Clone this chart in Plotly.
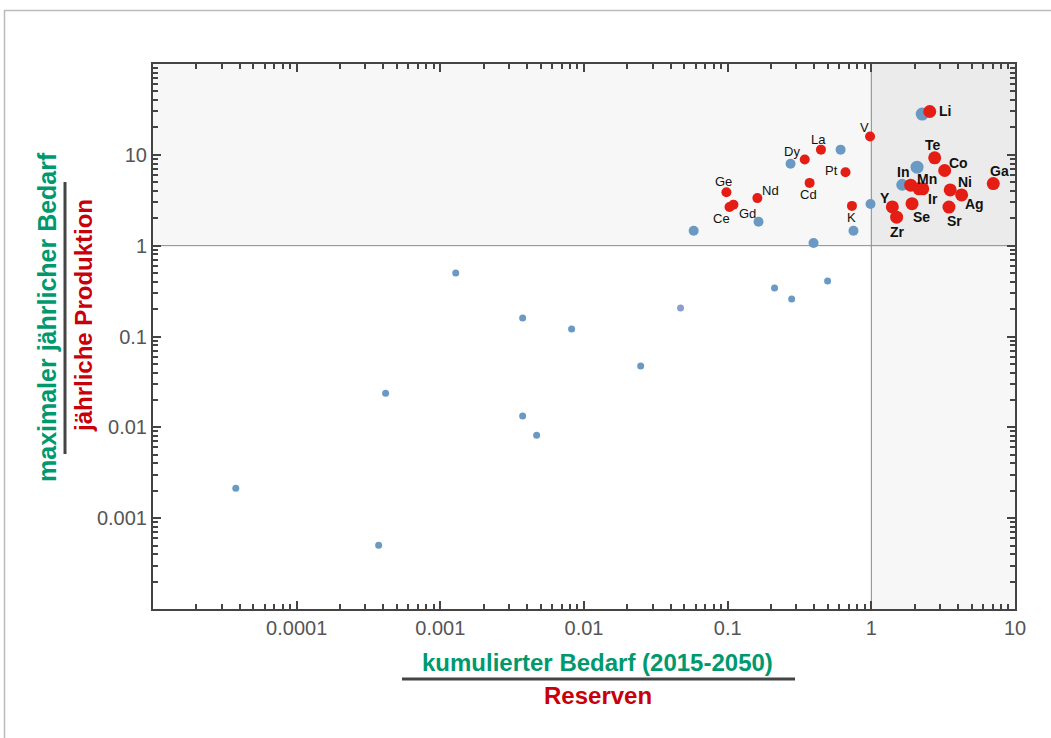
import numpy as np
import plotly.graph_objects as go

# ---------------- data ----------------
# blue points (x: cumulative demand / reserves, y: max annual demand / annual production)
blue_x = [3.77e-5, 3.72e-4, 4.16e-4, 1.28e-3, 3.74e-3, 3.74e-3, 4.68e-3, 8.2e-3,
          0.0248, 0.212, 0.279, 0.496,
          0.058, 0.164, 0.274, 0.611, 0.396, 0.751, 0.987, 1.64, 2.08, 2.26]
blue_y = [0.00214, 0.000504, 0.0238, 0.501, 0.160, 0.0133, 0.0082, 0.121,
          0.0473, 0.342, 0.259, 0.409,
          1.46, 1.83, 7.96, 11.4, 1.07, 1.46, 2.88, 4.67, 7.31, 28.1]
blue_special_x = [0.047]
blue_special_y = [0.206]

# red labelled elements
red_names = ["V", "La", "Dy", "Pt", "Cd", "Ge", "Nd", "Ce", "Gd", "K",
             "Li", "Te", "Co", "In", "Mn", "Ir", "Ni", "Ag", "Ga", "Se", "Sr", "Y", "Zr"]
red_x = [0.98, 0.446, 0.344, 0.661, 0.372, 0.098, 0.161, 0.103, 0.1097, 0.733,
         2.55, 2.76, 3.24, 1.88, 2.15, 2.28, 3.54, 4.25, 7.06, 1.92, 3.47, 1.40, 1.50]
red_y = [15.9, 11.4, 8.88, 6.44, 4.91, 3.88, 3.34, 2.66, 2.83, 2.74,
         30.0, 9.26, 6.72, 4.63, 4.22, 4.22, 4.11, 3.62, 4.83, 2.90, 2.66, 2.67, 2.06]

x_tick_vals = [1e-4, 1e-3, 1e-2, 1e-1, 1, 10]
x_tick_text = ["0.0001", "0.001", "0.01", "0.1", "1", "10"]
y_tick_vals = [1e-3, 1e-2, 1e-1, 1, 10]
y_tick_text = ["0.001", "0.01", "0.1", "1", "10"]

# ---------------- styling ----------------
W, H = 1051, 738
L, R, T, B = 153, 1015, 64, 609
XR = (-5, 1)
YR = (-4, 2)
FONT = "Liberation Sans, Arial, sans-serif"
GREEN = "#00996e"
DARKRED = "#c8000a"
RED = "#e41d15"
BLUE = "#6a9ac3"

def pxx(px):
    return (px - L) / (R - L)

def pxy(py):
    return (B - py) / (B - T)

blue_sizes = [7] * 12 + [10, 10, 10, 10, 10, 10, 10, 12, 13, 13]
red_sizes = [10] * 10 + [13] * 13

label_off = {  # pixel offsets of label centre from point centre (dx, dy down)
    "Li": (15, 0), "V": (-6, -9), "La": (-2, -10), "Dy": (-13, -8), "Pt": (-14, -2),
    "Cd": (-1, 12), "Ge": (-3, -11), "Nd": (13, -8), "Ce": (-8, 11), "Gd": (14, 9),
    "K": (0, 12), "Te": (-2, -13), "Co": (14, -8), "In": (-8, -13), "Mn": (8, -10),
    "Ir": (10, 10), "Ni": (15, -8), "Ag": (13, 9), "Ga": (6, -13), "Se": (9, 13),
    "Sr": (6, 14), "Y": (-7, -9), "Zr": (1, 15),
}
bold_names = {"Li", "Te", "Co", "In", "Mn", "Ir", "Ni", "Ag", "Ga", "Se", "Sr", "Y", "Zr"}

fig = go.Figure()

fig.add_trace(go.Scatter(x=blue_x, y=blue_y, mode="markers",
                         marker=dict(color=BLUE, size=blue_sizes, opacity=1, line=dict(width=0)),
                         showlegend=False, hoverinfo="x+y"))
fig.add_trace(go.Scatter(x=blue_special_x, y=blue_special_y, mode="markers",
                         marker=dict(color="#8c9dcf", size=7, opacity=1, line=dict(width=0)),
                         showlegend=False, hoverinfo="x+y"))
fig.add_trace(go.Scatter(x=red_x, y=red_y, mode="markers", text=red_names,
                         marker=dict(color=RED, size=red_sizes, opacity=1, line=dict(width=0)),
                         showlegend=False, hoverinfo="text+x+y"))

annotations = []
for n, xv, yv in zip(red_names, red_x, red_y):
    dx, dy = label_off[n]
    b = n in bold_names
    annotations.append(dict(
        x=np.log10(xv), y=np.log10(yv), xref="x", yref="y",
        xanchor="center", yanchor="middle",
        text=f"<b>{n}</b>" if b else n, showarrow=False,
        xshift=dx, yshift=-dy,
        font=dict(family=FONT, size=14 if b else 13, color="#111"),
    ))

# axis titles (fraction style)
title_common = dict(xref="paper", yref="paper", showarrow=False,
                    xanchor="center", yanchor="middle")
annotations += [
    dict(**title_common, x=pxx(597.5), y=pxy(662),
         text="<b>kumulierter Bedarf (2015-2050)</b>",
         font=dict(family=FONT, size=24, color=GREEN)),
    dict(**title_common, x=pxx(597.5), y=pxy(695),
         text="<b>Reserven</b>", font=dict(family=FONT, size=24, color=DARKRED)),
    dict(**title_common, x=pxx(47), y=pxy(317), textangle=-90,
         text="<b>maximaler jährlicher Bedarf</b>",
         font=dict(family=FONT, size=25, color=GREEN)),
    dict(**title_common, x=pxx(83), y=pxy(316), textangle=-90,
         text="<b>jährliche Produktion</b>",
         font=dict(family=FONT, size=24, color=DARKRED)),
]

x1p = (0 - XR[0]) / (XR[1] - XR[0])
y1p = (0 - YR[0]) / (YR[1] - YR[0])
shapes = [
    dict(type="rect", xref="paper", yref="paper", x0=0, x1=x1p, y0=y1p, y1=1,
         fillcolor="#f7f7f7", line=dict(width=0), layer="below"),
    dict(type="rect", xref="paper", yref="paper", x0=x1p, x1=1, y0=0, y1=y1p,
         fillcolor="#f7f7f7", line=dict(width=0), layer="below"),
    dict(type="rect", xref="paper", yref="paper", x0=x1p, x1=1, y0=y1p, y1=1,
         fillcolor="#ebebeb", line=dict(width=0), layer="below"),
    dict(type="line", xref="paper", yref="paper", x0=0, x1=1, y0=y1p, y1=y1p,
         line=dict(color="#8a8a8a", width=1), layer="below"),
    dict(type="line", xref="paper", yref="paper", x0=x1p, x1=x1p, y0=0, y1=1,
         line=dict(color="#8a8a8a", width=1), layer="below"),
    # fraction bars
    dict(type="line", xref="paper", yref="paper", x0=pxx(402), x1=pxx(795),
         y0=pxy(679), y1=pxy(679), line=dict(color="#444", width=3)),
    dict(type="line", xref="paper", yref="paper", x0=pxx(65), x1=pxx(65),
         y0=pxy(182), y1=pxy(454), line=dict(color="#444", width=3)),
    # outer border
    dict(type="rect", xref="paper", yref="paper", x0=pxx(4.5), x1=pxx(1100),
         y0=pxy(800), y1=pxy(10.5), line=dict(color="#bbbbbb", width=1.5),
         fillcolor="rgba(0,0,0,0)"),
]

minor_x = [m * 10.0 ** e for e in range(-5, 1) for m in range(2, 10)]
minor_y = [m * 10.0 ** e for e in range(-4, 2) for m in range(2, 10)]

axis_common = dict(
    type="log", showgrid=False, zeroline=False, showline=True, linecolor="#444",
    linewidth=2, mirror="allticks", ticks="inside", ticklen=8, tickwidth=2,
    tickcolor="#444", tickfont=dict(family=FONT, size=20, color="#555"),
    tickmode="array",
)

fig.update_layout(
    width=W, height=H,
    margin=dict(l=L, r=W - R, t=T, b=H - B, pad=0),
    plot_bgcolor="white", paper_bgcolor="white",
    xaxis=dict(**axis_common, range=list(XR), tickvals=x_tick_vals, ticktext=x_tick_text,
               minor=dict(tickmode="array", tickvals=minor_x, ticks="inside",
                          ticklen=5, tickwidth=2, tickcolor="#444", showgrid=False)),
    yaxis=dict(**axis_common, range=list(YR), tickvals=y_tick_vals, ticktext=y_tick_text,
               minor=dict(tickmode="array", tickvals=minor_y, ticks="inside",
                          ticklen=5, tickwidth=2, tickcolor="#444", showgrid=False)),
    annotations=annotations, shapes=shapes, showlegend=False,
)

fig.write_html(
    "out.html",
    config={"displayModeBar": False},
    post_script="document.body.style.margin='0';document.body.style.overflow='hidden';",
)
